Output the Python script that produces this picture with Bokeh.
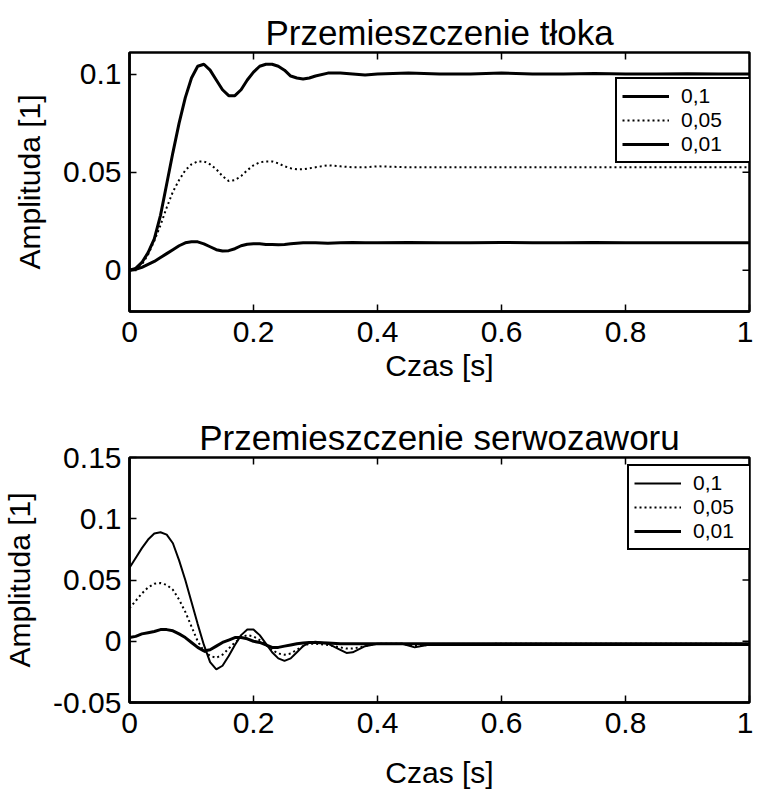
import math
from bokeh.plotting import figure
from bokeh.layouts import column
from bokeh.models import (FixedTicker, Legend, LegendItem, Range1d)
from bokeh.embed import file_html
from bokeh.resources import INLINE

# ---------------- data ----------------
# Top: Przemieszczenie tloka
t_top = [0.0, 0.01, 0.02, 0.03, 0.04, 0.05, 0.06, 0.07, 0.08, 0.09, 0.10, 0.11, 0.12,
         0.13, 0.14, 0.15, 0.16, 0.17, 0.18, 0.19, 0.20, 0.21, 0.22, 0.23, 0.24, 0.25,
         0.26, 0.27, 0.28, 0.29, 0.30, 0.32, 0.34, 0.36, 0.38, 0.40, 0.45, 0.50, 0.55,
         0.60, 0.65, 0.70, 0.75, 0.80, 0.85, 0.90, 0.95, 1.00]
top_01 = [0.0, 0.001, 0.004, 0.009, 0.016, 0.028, 0.044, 0.060, 0.075, 0.088, 0.098, 0.104, 0.105,
          0.102, 0.097, 0.092, 0.089, 0.089, 0.092, 0.097, 0.101, 0.104, 0.105, 0.105, 0.104, 0.102,
          0.099, 0.098, 0.0975, 0.098, 0.099, 0.1005, 0.1005, 0.100, 0.0995, 0.100, 0.1005, 0.100, 0.100,
          0.1005, 0.100, 0.100, 0.1003, 0.100, 0.100, 0.1002, 0.100, 0.100]
top_005 = [0.0, 0.001, 0.003, 0.008, 0.015, 0.023, 0.032, 0.040, 0.046, 0.051, 0.054, 0.0555, 0.0555,
           0.054, 0.0515, 0.048, 0.0455, 0.046, 0.048, 0.051, 0.0535, 0.055, 0.0555, 0.0555, 0.0545, 0.053,
           0.052, 0.0515, 0.0515, 0.052, 0.0525, 0.0535, 0.053, 0.0525, 0.0525, 0.053, 0.0525, 0.0525, 0.0525,
           0.0525, 0.0525, 0.0525, 0.0525, 0.0525, 0.0525, 0.0525, 0.0525, 0.0525]
top_001 = [0.0, 0.0005, 0.0015, 0.003, 0.0045, 0.0065, 0.0085, 0.0105, 0.0125, 0.014, 0.0145, 0.0145, 0.0135,
           0.012, 0.0105, 0.0098, 0.0100, 0.011, 0.0125, 0.0133, 0.0135, 0.0135, 0.0132, 0.0132, 0.013, 0.0132,
           0.0135, 0.0138, 0.014, 0.014, 0.014, 0.0138, 0.014, 0.0142, 0.014, 0.014, 0.0142, 0.014, 0.014,
           0.0142, 0.014, 0.014, 0.0142, 0.014, 0.014, 0.0141, 0.014, 0.014]

# Bottom: Przemieszczenie serwozaworu
t_bot = [0.0, 0.01, 0.02, 0.03, 0.04, 0.05, 0.06, 0.07, 0.08, 0.09, 0.10, 0.11, 0.12,
         0.13, 0.14, 0.15, 0.16, 0.17, 0.18, 0.19, 0.20, 0.21, 0.22, 0.23, 0.24, 0.25,
         0.26, 0.27, 0.28, 0.29, 0.30, 0.32, 0.34, 0.35, 0.36, 0.38, 0.40, 0.44, 0.46,
         0.48, 0.50, 0.60, 0.70, 0.80, 0.90, 1.00]
bot_01 = [0.060, 0.068, 0.076, 0.083, 0.088, 0.089, 0.087, 0.080, 0.066, 0.050, 0.032, 0.014, -0.003,
          -0.017, -0.023, -0.020, -0.012, -0.003, 0.005, 0.0095, 0.0095, 0.005, -0.002, -0.009, -0.014, -0.016,
          -0.014, -0.009, -0.004, -0.001, -0.0005, -0.002, -0.007, -0.0095, -0.009, -0.004, -0.002, -0.002, -0.005,
          -0.003, -0.003, -0.003, -0.003, -0.003, -0.003, -0.003]
bot_005 = [0.027, 0.033, 0.039, 0.044, 0.047, 0.0475, 0.046, 0.042, 0.034, 0.024, 0.012, 0.000, -0.008,
           -0.012, -0.0135, -0.011, -0.006, -0.001, 0.003, 0.005, 0.004, 0.001, -0.003, -0.007, -0.010, -0.011,
           -0.010, -0.007, -0.004, -0.002, -0.002, -0.003, -0.005, -0.006, -0.006, -0.004, -0.002, -0.002, -0.004,
           -0.003, -0.003, -0.002, -0.002, -0.002, -0.002, -0.002]
bot_001 = [0.003, 0.004, 0.006, 0.007, 0.008, 0.0095, 0.0095, 0.0085, 0.006, 0.003, -0.001, -0.005, -0.008,
           -0.007, -0.004, -0.001, 0.001, 0.003, 0.003, 0.002, 0.000, -0.001, -0.003, -0.005, -0.005, -0.004,
           -0.003, -0.002, -0.0015, -0.001, -0.001, -0.0015, -0.002, -0.002, -0.002, -0.002, -0.002, -0.002, -0.002,
           -0.002, -0.002, -0.002, -0.002, -0.002, -0.002, -0.002]

series_labels = ["0,1", "0,05", "0,01"]
x_ticks = [0, 0.2, 0.4, 0.6, 0.8, 1.0]
x_tick_labels = ["0", "0.2", "0.4", "0.6", "0.8", "1"]
top_y_ticks = [0, 0.05, 0.1]
top_y_tick_labels = ["0", "0.05", "0.1"]
top_y_range = (-0.021, 0.111)
bot_y_ticks = [-0.05, 0, 0.05, 0.1, 0.15]
bot_y_tick_labels = ["-0.05", "0", "0.05", "0.1", "0.15"]
bot_y_range = (-0.05, 0.15)

FONT = "Liberation Sans"


def style(p, yticks, ylabels, yrange, xlab_standoff):
    p.xaxis.ticker = FixedTicker(ticks=x_ticks)
    p.xaxis.major_label_overrides = {t: l for t, l in zip(x_ticks, x_tick_labels)}
    p.yaxis.ticker = FixedTicker(ticks=yticks)
    p.yaxis.major_label_overrides = {t: l for t, l in zip(yticks, ylabels)}
    for ax in [p.xaxis[0], p.yaxis[0]]:
        ax.major_label_text_font = FONT
        ax.major_label_text_font_size = "30px"
        ax.major_label_text_color = "black"
        ax.axis_label_text_font = FONT
        ax.axis_label_text_font_size = "30px"
        ax.axis_label_text_font_style = "normal"
        ax.axis_label_text_color = "black"
        ax.major_tick_in = 7
        ax.major_tick_out = 0
        ax.minor_tick_line_color = None
        ax.major_tick_line_width = 1.5
        ax.axis_line_width = 2.5
        ax.axis_line_color = "black"
    p.xaxis.axis_label = "Czas [s]"
    p.yaxis.axis_label = "Amplituda [1]"
    p.xaxis.major_label_standoff = 10
    p.xaxis.axis_label_standoff = xlab_standoff
    p.yaxis.major_label_standoff = 8
    p.yaxis.axis_label_standoff = 14
    # mirrored inward ticks on the top and right edges of the box
    p.ray(x=x_ticks, y=[yrange[1]] * len(x_ticks), length=7, length_units="screen",
          angle=-math.pi / 2, line_color="black", line_width=1.5)
    p.ray(x=[1.0] * len(yticks), y=yticks, length=7, length_units="screen",
          angle=math.pi, line_color="black", line_width=1.5)
    p.grid.visible = False
    p.outline_line_color = "black"
    p.outline_line_width = 2.5
    p.outline_line_alpha = 1.0
    p.title.text_font = FONT
    p.title.text_font_size = "35px"
    p.title.text_font_style = "normal"
    p.title.align = "center"
    p.title.text_color = "black"
    p.title.standoff = 2


def make_legend(p, renderers, loc):
    leg = Legend(items=[LegendItem(label=l, renderers=[r]) for l, r in zip(series_labels, renderers)],
                 location=loc, label_text_font=FONT, label_text_font_size="21px",
                 label_text_color="black",
                 glyph_width=47, glyph_height=18, label_height=18, label_width=64,
                 label_standoff=12, padding=5, spacing=0, margin=0,
                 border_line_color="black", border_line_width=2, border_line_alpha=1.0,
                 background_fill_color="white", background_fill_alpha=1.0)
    p.add_layout(leg, "center")


# ---------------- top figure ----------------
p1 = figure(width=753, height=398, output_backend="svg", toolbar_location=None,
            title="Przemieszczenie tłoka",
            x_range=Range1d(0, 1), y_range=Range1d(*top_y_range),
            min_border_left=119, min_border_right=4, min_border_top=52, min_border_bottom=87)
style(p1, top_y_ticks, top_y_tick_labels, top_y_range, 4)
r1 = p1.line(t_top, top_01, line_color="black", line_width=3)
r2 = p1.line(t_top, top_005, line_color="black", line_width=2, line_dash="2 3")
r3 = p1.line(t_top, top_001, line_color="black", line_width=3)
make_legend(p1, [r1, r2, r3], (486, 148))

# ---------------- bottom figure ----------------
p2 = figure(width=753, height=397, output_backend="svg", toolbar_location=None,
            title="Przemieszczenie serwozaworu",
            x_range=Range1d(0, 1), y_range=Range1d(*bot_y_range),
            min_border_left=119, min_border_right=4, min_border_top=59, min_border_bottom=93)
style(p2, bot_y_ticks, bot_y_tick_labels, bot_y_range, 20)
s1 = p2.line(t_bot, bot_01, line_color="black", line_width=2)
s2 = p2.line(t_bot, bot_005, line_color="black", line_width=2, line_dash="2 3")
s3 = p2.line(t_bot, bot_001, line_color="black", line_width=3)
make_legend(p2, [s1, s2, s3], (498, 152))

layout = column(p1, p2, spacing=0)
open("out.html", "w").write(file_html(layout, INLINE))
